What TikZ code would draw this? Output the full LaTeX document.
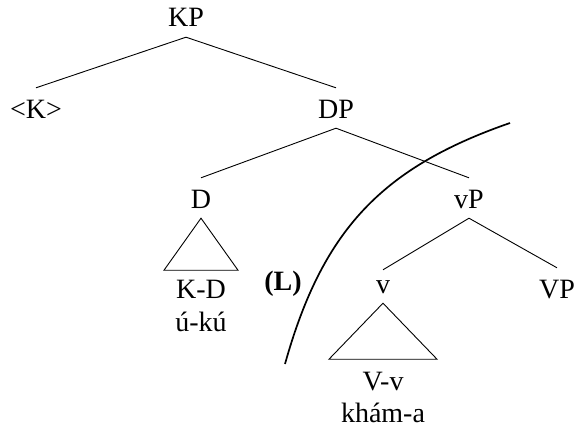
\documentclass[tikz,border=0pt]{standalone}
\usepackage{fontspec}
\setmainfont{Liberation Serif}
\begin{document}
\begin{tikzpicture}[x=1pt,y=-1pt,
  every node/.style={font=\fontsize{28}{33}\selectfont},
  lab/.style={anchor=base,inner sep=0pt},
  cat/.style={anchor=base,inner xsep=0pt,inner ysep=5pt,text height=25pt,text depth=5pt},
  branch/.style={line width=0.9pt},
  tri/.style={line width=0.9pt,line join=miter},
  lcurve/.style={line width=1.7pt}]
\useasboundingbox (0,0) rectangle (574,431);
% nodes
\node[cat] (KP) at (186,27) {KP};
\node[cat] (K) at (36,118) {<K>};
\node[cat] (DP) at (336,118) {DP};
\node[cat] (D) at (201,208) {D};
\node[cat] (vP) at (469,208) {vP};
\node[cat,text height=18pt] (v) at (383,293) {v};
\node[cat] (VP) at (557,298) {VP};
\node[lab] (KD) at (201,298) {K-D};
\node[lab] (uku) at (201,331) {ú-kú};
\node[lab] (Vv) at (383,390) {V-v};
\node[lab] (khama) at (383,422) {khám-a};
\node[lab] (L) at (283,290) {\textbf{(L)}};
% branches
\draw[branch] (KP.south) -- (K.north);
\draw[branch] (KP.south) -- (DP.north);
\draw[branch] (DP.south) -- (D.north);
\draw[branch] (DP.south) -- (vP.north);
\draw[branch] (vP.south) -- (v.north);
\draw[branch] (vP.south) -- (VP.north);
% triangles
\draw[tri] (D.south) -- ++(-37,52) -- ++(74,0) -- cycle;
\draw[tri] (v.south) -- ++(-54,56) -- ++(108,0) -- cycle;
% boundary curve
\coordinate (Ltop) at (510,123);
\coordinate (Lbot) at (285,364);
\draw[lcurve] (Ltop) .. controls (380,168) and (322,232) .. (Lbot);
\end{tikzpicture}
\end{document}
